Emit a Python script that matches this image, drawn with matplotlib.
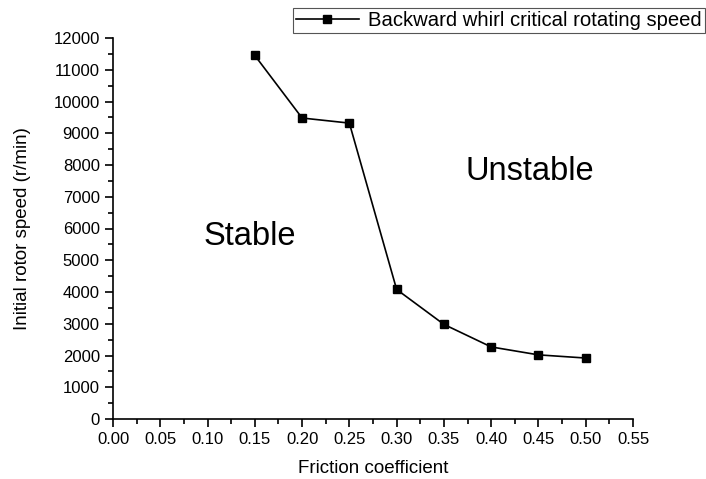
import matplotlib
matplotlib.use("Agg")
import matplotlib.pyplot as plt
from matplotlib.ticker import MultipleLocator

plt.rcParams['font.family'] = ['Liberation Sans', 'DejaVu Sans']

friction = [0.15, 0.20, 0.25, 0.30, 0.35, 0.40, 0.45, 0.50]
speed = [11450, 9480, 9320, 4080, 2980, 2270, 2020, 1920]
series_label = "Backward whirl critical rotating speed"

fig = plt.figure(figsize=(7.06, 4.79), dpi=100)
ax = fig.add_axes([113/706, 1-419/479, (633-113)/706, (419-38)/479])

ax.plot(friction, speed, color='black', lw=1.2, marker='s', ms=6, label=series_label)

ax.set_xlim(0, 0.55)
ax.set_ylim(0, 12000)
ax.xaxis.set_major_locator(MultipleLocator(0.05))
ax.xaxis.set_minor_locator(MultipleLocator(0.025))
ax.yaxis.set_major_locator(MultipleLocator(1000))
ax.yaxis.set_minor_locator(MultipleLocator(500))
ax.xaxis.set_major_formatter(matplotlib.ticker.FormatStrFormatter('%.2f'))
for s in ['top', 'right']:
    ax.spines[s].set_visible(False)
for s in ['left', 'bottom']:
    ax.spines[s].set_linewidth(1.2)
ax.tick_params(which='major', direction='out', length=6, width=1.2, labelsize=12)
ax.tick_params(which='minor', direction='out', length=3.5, width=1.2)

ax.set_xlabel("Friction coefficient", fontsize=13.5, labelpad=9)
ax.set_ylabel("Initial rotor speed (r/min)", fontsize=13.5, labelpad=16)

ax.text(0.145, 5750, "Stable", fontsize=23.5, ha='center', va='center')
ax.text(0.441, 7780, "Unstable", fontsize=23.5, ha='center', va='center')

leg = fig.legend(loc='upper left', bbox_to_anchor=(293/706, 1-8/479), fontsize=14.6,
                 frameon=True, fancybox=False, edgecolor='#555555', framealpha=1,
                 borderpad=0.15, handlelength=3.1, handletextpad=0.45, borderaxespad=0)
leg.get_frame().set_linewidth(0.8)

fig.savefig("out.png", dpi=100)
